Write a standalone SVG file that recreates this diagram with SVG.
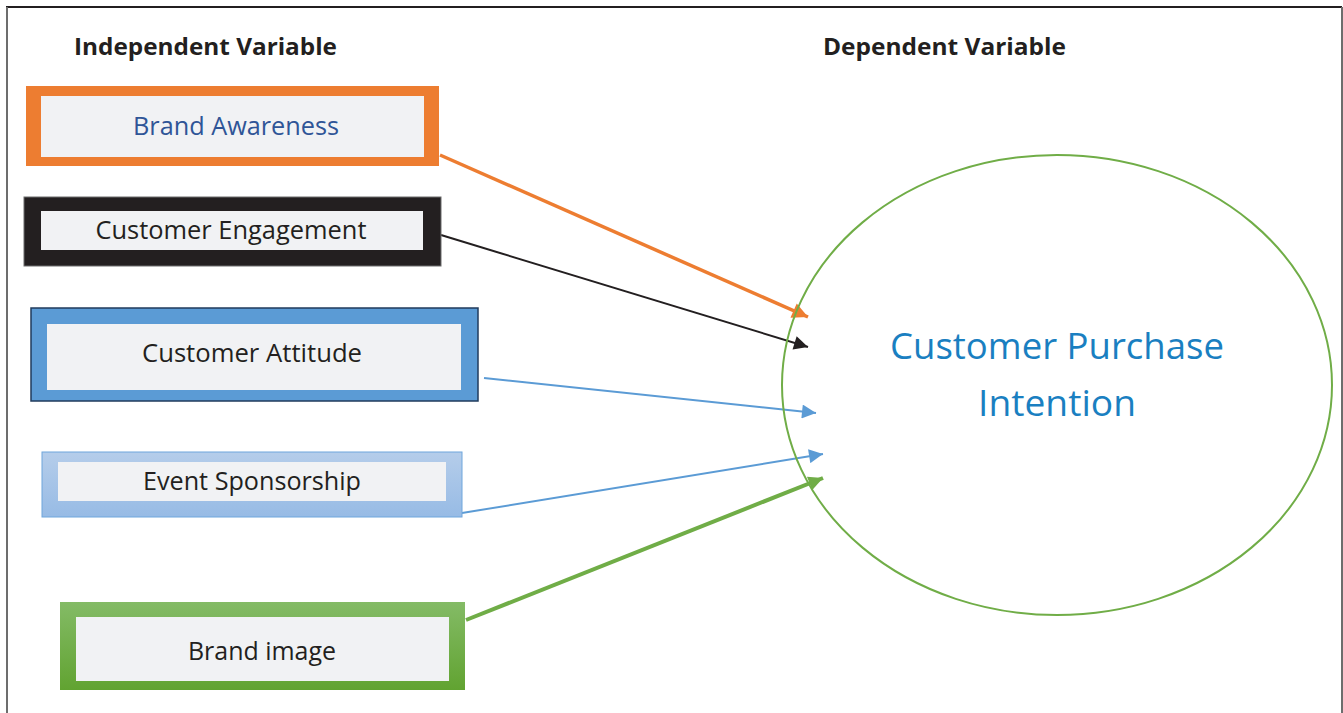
<svg xmlns="http://www.w3.org/2000/svg" width="1343" height="713" viewBox="0 0 1343 713">
<defs>
<style>
.lbl{font-family:"Open Sans","Noto Sans",sans-serif;font-size:25px;fill:#231f20;text-anchor:middle}
.hdr{font-family:"Open Sans","Noto Sans",sans-serif;font-size:23px;font-weight:bold;fill:#231f20}
.inner{fill:#f1f2f4}
.conn{fill:none}
</style>
<linearGradient id="gEvent" x1="0" y1="0" x2="0" y2="1"><stop offset="0" stop-color="#b5cdea"/><stop offset="1" stop-color="#97bbe5"/></linearGradient>
<linearGradient id="gBrand" x1="0" y1="0" x2="0" y2="1"><stop offset="0" stop-color="#84bb66"/><stop offset="1" stop-color="#61a331"/></linearGradient>
<marker id="aO" viewBox="0 0 10 10" refX="10" refY="5" markerWidth="5" markerHeight="4.5" orient="auto" markerUnits="strokeWidth"><path d="M0,0L10,5L0,10z" fill="#ed7d31"/></marker>
<marker id="aK" viewBox="0 0 10 10" refX="10" refY="5" markerWidth="8" markerHeight="7" orient="auto" markerUnits="strokeWidth"><path d="M0,0L10,5L0,10z" fill="#231f20"/></marker>
<marker id="aB" viewBox="0 0 10 10" refX="10" refY="5" markerWidth="8" markerHeight="7" orient="auto" markerUnits="strokeWidth"><path d="M0,0L10,5L0,10z" fill="#5b9bd5"/></marker>
<marker id="aG" viewBox="0 0 10 10" refX="10" refY="5" markerWidth="4" markerHeight="3.6" orient="auto" markerUnits="strokeWidth"><path d="M0,0L10,5L0,10z" fill="#70ad47"/></marker>
</defs>
<rect width="1343" height="713" fill="#ffffff"/>
<g id="frame">
<line x1="6" y1="7" x2="1342" y2="7" stroke="#231f20" stroke-width="2"/>
<line x1="7" y1="7" x2="7" y2="713" stroke="#6d6d6d" stroke-width="2"/>
<line x1="1342" y1="7" x2="1342" y2="713" stroke="#6d6d6d" stroke-width="2"/>
</g>
<g id="headers">
<text class="hdr" x="74" y="55" textLength="263" lengthAdjust="spacingAndGlyphs">Independent Variable</text>
<text class="hdr" x="823" y="55" textLength="243" lengthAdjust="spacingAndGlyphs">Dependent Variable</text>
</g>
<g id="connectors">
<line class="conn" x1="440" y1="155" x2="808" y2="317" stroke="#ed7d31" stroke-width="3.5" marker-end="url(#aO)"/>
<line class="conn" x1="441" y1="235" x2="808" y2="347" stroke="#231f20" stroke-width="2" marker-end="url(#aK)"/>
<line class="conn" x1="484" y1="378" x2="816" y2="413" stroke="#5b9bd5" stroke-width="2" marker-end="url(#aB)"/>
<line class="conn" x1="462" y1="513" x2="823" y2="454" stroke="#5b9bd5" stroke-width="2" marker-end="url(#aB)"/>
<line class="conn" x1="466" y1="620" x2="823" y2="478" stroke="#70ad47" stroke-width="4" marker-end="url(#aG)"/>
</g>
<g id="node-brand-awareness">
<rect x="26" y="86" width="413" height="80" fill="#ed7d31"/>
<rect class="inner" x="41" y="96" width="383" height="61"/>
<text class="lbl" x="236" y="135" fill="#2f5597" style="fill:#2f5597" textLength="206" lengthAdjust="spacingAndGlyphs">Brand Awareness</text>
</g>
<g id="node-customer-engagement">
<rect x="24" y="197" width="417" height="69" fill="#231f20" stroke="#6d6d6d" stroke-width="1"/>
<rect class="inner" x="41" y="211" width="382" height="39"/>
<text class="lbl" x="231" y="239" textLength="271" lengthAdjust="spacingAndGlyphs">Customer Engagement</text>
</g>
<g id="node-customer-attitude">
<rect x="31" y="308" width="447" height="93" fill="#5b9bd5" stroke="#213b5c" stroke-width="1.5"/>
<rect class="inner" x="47" y="324" width="414" height="66"/>
<text class="lbl" x="252" y="362" textLength="220" lengthAdjust="spacingAndGlyphs">Customer Attitude</text>
</g>
<g id="node-event-sponsorship">
<rect x="42" y="452" width="420" height="65" fill="url(#gEvent)" stroke="#6fa6dc" stroke-width="1"/>
<rect class="inner" x="58" y="462" width="388" height="39"/>
<text class="lbl" x="252" y="490" textLength="218" lengthAdjust="spacingAndGlyphs">Event Sponsorship</text>
</g>
<g id="node-brand-image">
<rect x="60" y="602" width="405" height="88" fill="url(#gBrand)"/>
<rect class="inner" x="76" y="617" width="373" height="64"/>
<text class="lbl" x="262" y="660" textLength="148" lengthAdjust="spacingAndGlyphs">Brand image</text>
</g>
<g id="node-purchase-intention">
<ellipse cx="1057" cy="385" rx="275" ry="230" fill="none" stroke="#70ad47" stroke-width="2"/>
<text x="1057" y="359" font-family="Open Sans, Noto Sans, sans-serif" font-size="36" fill="#1a7fc1" text-anchor="middle" textLength="334" lengthAdjust="spacingAndGlyphs">Customer Purchase</text>
<text x="1057" y="416" font-family="Open Sans, Noto Sans, sans-serif" font-size="36" fill="#1a7fc1" text-anchor="middle" textLength="158" lengthAdjust="spacingAndGlyphs">Intention</text>
</g>
</svg>
